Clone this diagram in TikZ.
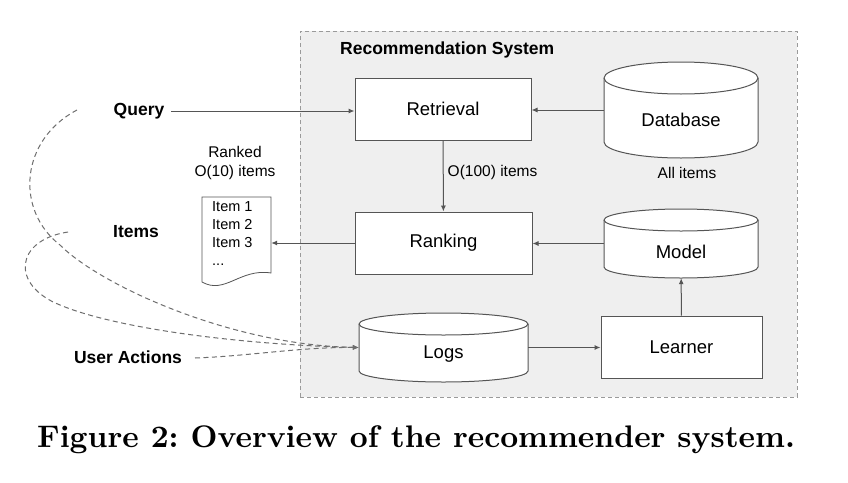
\documentclass[tikz,border=0pt]{standalone}
\usepackage{fontspec}
\newfontfamily\arial{Liberation Sans}
\usetikzlibrary{arrows.meta,fit}

\definecolor{edge}{HTML}{555555}
\definecolor{sysfill}{HTML}{EFEFEF}
\definecolor{sysdash}{HTML}{9A9A9A}

\tikzset{
  box/.style={draw=edge, line width=1pt, fill=white, inner sep=0pt,
    font=\arial\fontsize{18.5}{22}\selectfont},
  lbl/.style={font=\arial\fontsize{18.5}{22}\selectfont, inner sep=0pt},
  smalltxt/.style={font=\arial\fontsize{15.5}{19}\selectfont, inner sep=0pt},
  boldtxt/.style={font=\arial\bfseries\fontsize{17.5}{21}\selectfont, inner sep=0pt},
  cylline/.style={draw=edge, line width=1pt, fill=white},
  flow/.style={draw=edge, line width=1pt, -{Latex[length=6pt,width=5pt]}},
  feedback/.style={draw=edge!85, line width=1pt, dash pattern=on 5pt off 3.5pt,
    -{Latex[length=6pt,width=5pt]}},
  sysbox/.style={draw=sysdash, line width=1pt, dash pattern=on 4pt off 3pt,
    fill=sysfill, inner sep=0pt},
}

% cylinder: name, left, top, right, bottom, cap radius, label, label y
\newcommand\storecyl[8]{%
  \pgfmathsetmacro\cylcx{(#2+#4)/2}%
  \pgfmathsetmacro\cylrx{(#4-#2)/2}%
  \draw[cylline] (#2,#3+#6) -- (#2,#5-#6)
    arc[start angle=180, end angle=0, x radius=\cylrx, y radius=#6]
    -- (#4,#3+#6)
    arc[start angle=0, end angle=-180, x radius=\cylrx, y radius=#6] -- cycle;
  \draw[cylline, fill=none] (#2,#3+#6)
    arc[start angle=180, end angle=0, x radius=\cylrx, y radius=#6];
  \coordinate (#1-nw) at (#2,#3);
  \coordinate (#1-se) at (#4,#5);
  \node[fit=(#1-nw)(#1-se), inner sep=0pt] (#1) {};
  \node[lbl] (#1-label) at (\cylcx,#8) {#7};
}

\begin{document}
\begin{tikzpicture}[x=1pt, y=-1pt]
  \useasboundingbox (0,0) rectangle (848,482);
  \fill[white] (0,0) rectangle (848,482);

  % system frame
  \node[sysbox, minimum width=497pt, minimum height=366pt] (sys) at (548.5,214) {};
  \node[boldtxt, anchor=west] (systitle) at (340,50) {Recommendation System};

  % processing stages
  \node[box, minimum width=176pt, minimum height=62pt] (ret) at (443,109) {Retrieval};
  \node[box, minimum width=177pt, minimum height=62pt] (rank) at (443.5,243) {Ranking};
  \node[box, minimum width=161pt, minimum height=62pt] (learner) at (681.5,347) {Learner};

  % stores
  \storecyl{db}{604}{62}{758}{158}{16}{Database}{120}
  \storecyl{model}{604}{209}{758}{278}{11}{Model}{252}
  \storecyl{logs}{359}{313}{528}{382}{11}{Logs}{354}

  \node[smalltxt] (allitems) at (687,173) {All items};

  % ranked result list
  \draw[draw=edge, line width=0.8pt, fill=white]
    (202,197) -- (271,197) -- (271,273)
    .. controls (240,268) and (225,295) .. (202,282) -- cycle;
  \coordinate (doc-nw) at (202,197);
  \coordinate (doc-se) at (271,283);
  \node[fit=(doc-nw)(doc-se), inner sep=0pt] (doc) {};
  \node[font=\arial\fontsize{14.5}{18}\selectfont, inner sep=0pt, anchor=north west,
        align=left] (doclist) at (212,201) {Item 1\\Item 2\\Item 3\\...};
  \node[smalltxt, align=center] (ranked) at (235,163) {Ranked\\O(10) items};

  % external inputs
  \node[boldtxt, inner xsep=7pt] (query) at (139,111) {Query};
  \node[boldtxt] (items) at (136,232) {Items};
  \node[boldtxt] (actions) at (128,357) {User Actions};

  % main flow
  \draw[flow] (query.east) -- (query.east -| ret.west);
  \draw[flow] (db.west) -- (db.west -| ret.east);
  \draw[flow] (ret) -- (rank) node[smalltxt, pos=0.45, anchor=west, xshift=4pt] (o100) {O(100) items};
  \draw[flow] (model.west) -- (model.west -| rank.east);
  \draw[flow] (rank.west) -- (rank.west -| doc.east);
  \draw[flow] (logs.east) -- (logs.east -| learner.west);
  \draw[flow] (learner) -- (model);

  % user feedback collected in the logs
  \coordinate (qfb) at (77,110);
  \coordinate (ifb) at (68,232);
  \coordinate (afb) at (195,358);
  \draw[feedback] (qfb) .. controls (20,140) and (15,210) .. (60,245)
    .. controls (100,285) and (230,345) .. (logs.west);
  \draw[feedback] (ifb) .. controls (15,240) and (10,285) .. (60,305)
    .. controls (120,330) and (250,345) .. (logs.west);
  \draw[feedback] (afb) .. controls (250,356) and (300,347) .. (logs.west);

  % caption
  \node[anchor=base west, inner sep=0pt] (caption) at (37,447)
    {\scalebox{3.12}{\usefont{TU}{lmr}{bx}{n}\fontsize{10}{12}\selectfont
      Figure 2:\ Overview of the recommender system.}};
\end{tikzpicture}
\end{document}
